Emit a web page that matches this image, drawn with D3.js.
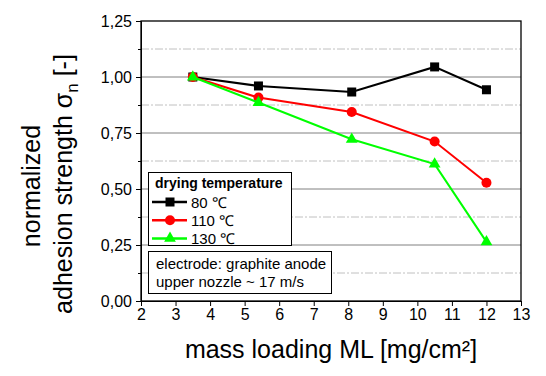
<!DOCTYPE html>
<html>
<head>
  <meta charset="UTF-8">
  <title>adhesion strength vs mass loading</title>
  <script src="https://d3js.org/d3.v7.min.js"></script>
  <style>
    body { margin: 0; background: #fff; }
    svg { display: block; font-family: 'Liberation Sans', Arial, sans-serif; }
  </style>
</head>
<body>
  <svg id="chart" width="546" height="376"></svg>
  <script>
    // data
    const massLoading = [3.5, 5.4, 8.1, 10.5, 12];
    const t80 = [1.0, 0.96, 0.933, 1.045, 0.943];
    const t110 = [1.0, 0.908, 0.844, 0.712, 0.528];
    const t130 = [1.0, 0.886, 0.722, 0.611, 0.264];
    const seriesNames = ["80 \u2103", "110 \u2103", "130 \u2103"];
    const xTicks = [2, 3, 4, 5, 6, 7, 8, 9, 10, 11, 12, 13];
    const yTicks = [0, 0.25, 0.5, 0.75, 1.0, 1.25];
    const yMinor = [0.125, 0.375, 0.625, 0.875, 1.125];

    const series = [
      { name: seriesNames[0], values: t80, color: "#000000", marker: "square" },
      { name: seriesNames[1], values: t110, color: "#ff0000", marker: "circle" },
      { name: seriesNames[2], values: t130, color: "#00ff00", marker: "triangle" }
    ];

    const margin = { top: 21, right: 25, bottom: 75, left: 141 },
          width = 546 - margin.left - margin.right,
          height = 376 - margin.top - margin.bottom;

    const svg = d3.select("#chart");
    const g = svg.append("g").attr("transform", `translate(${margin.left},${margin.top})`);

    const x = d3.scaleLinear().domain([2, 13]).range([0, width]);
    const y = d3.scaleLinear().domain([0, 1.25]).range([height, 0]);

    const fmt = d => d3.format(".2f")(d).replace(".", ",");

    // grid lines
    g.selectAll(".minor-grid").data(yMinor).enter().append("line")
      .attr("x1", 0).attr("x2", width)
      .attr("y1", d => y(d)).attr("y2", d => y(d))
      .attr("stroke", "#c0c0c0").attr("stroke-width", 1)
      .attr("stroke-dasharray", "8,2,2,2");
    g.selectAll(".major-grid").data(yTicks.filter(d => d > 0 && d < 1.25)).enter().append("line")
      .attr("x1", 0).attr("x2", width)
      .attr("y1", d => y(d)).attr("y2", d => y(d))
      .attr("stroke", "#808080").attr("stroke-width", 1);

    // axes
    const xAxis = g.append("g")
      .attr("transform", `translate(0,${height})`)
      .call(d3.axisBottom(x).tickValues(xTicks).tickSize(5).tickPadding(3).tickFormat(d3.format("d")));
    const yAxis = g.append("g")
      .call(d3.axisLeft(y).tickValues(yTicks).tickSize(5).tickPadding(4).tickFormat(fmt));
    g.append("g")
      .call(d3.axisLeft(y).tickValues(yMinor).tickSize(3).tickFormat(""))
      .select(".domain").remove();

    [xAxis, yAxis].forEach(a => {
      a.selectAll("text").attr("font-size", 16).attr("fill", "#000").attr("font-family", "'Liberation Sans', Arial, sans-serif");
      a.selectAll("line").attr("stroke", "#000");
      a.select(".domain").attr("stroke", "#000");
    });

    // frame
    g.append("rect").attr("width", width).attr("height", height)
      .attr("fill", "none").attr("stroke", "#000").attr("stroke-width", 1.3);

    // lines and markers
    const line = d3.line().x((d, i) => x(massLoading[i])).y(d => y(d));

    function drawMarker(sel, type, color, cx, cy) {
      if (type === "square") {
        sel.append("rect").attr("x", cx - 4.5).attr("y", cy - 4.5)
          .attr("width", 9).attr("height", 9).attr("fill", color);
      } else if (type === "circle") {
        sel.append("circle").attr("cx", cx).attr("cy", cy).attr("r", 5).attr("fill", color);
      } else {
        sel.append("path")
          .attr("d", d3.symbol().type(d3.symbolTriangle).size(60)())
          .attr("transform", `translate(${cx},${cy})`).attr("fill", color);
      }
    }

    series.forEach(s => {
      g.append("path").datum(s.values)
        .attr("fill", "none").attr("stroke", s.color).attr("stroke-width", 2)
        .attr("d", line);
      s.values.forEach((v, i) => drawMarker(g, s.marker, s.color, x(massLoading[i]), y(v)));
    });

    // legend
    const lg = svg.append("g");
    lg.append("rect").attr("x", 148.5).attr("y", 172.5).attr("width", 143).attr("height", 73)
      .attr("fill", "#fff").attr("stroke", "#000").attr("stroke-width", 1);
    lg.append("text").attr("x", 155).attr("y", 188).attr("font-size", 14)
      .attr("font-weight", "bold").text("drying temperature");
    series.forEach((s, i) => {
      const cy = 202 + i * 18.2;
      lg.append("line").attr("x1", 152).attr("x2", 187).attr("y1", cy).attr("y2", cy)
        .attr("stroke", s.color).attr("stroke-width", 2.5);
      drawMarker(lg, s.marker, s.color, 170, cy);
      lg.append("text").attr("x", 191).attr("y", cy + 5.5).attr("font-size", 15).text(s.name);
    });

    // note box
    const nb = svg.append("g");
    nb.append("rect").attr("x", 148.5).attr("y", 251.5).attr("width", 183).attr("height", 42)
      .attr("fill", "#fff").attr("stroke", "#000").attr("stroke-width", 1);
    nb.append("text").attr("x", 156).attr("y", 269).attr("font-size", 15).text("electrode: graphite anode");
    nb.append("text").attr("x", 156).attr("y", 287).attr("font-size", 15).text("upper nozzle ~ 17 m/s");

    // axis titles
    svg.append("text").attr("x", margin.left + width / 2).attr("y", 358)
      .attr("text-anchor", "middle").attr("font-size", 25)
      .text("mass loading ML [mg/cm\u00b2]");

    svg.append("text").attr("transform", "rotate(-90)")
      .attr("x", -186).attr("y", 40).attr("text-anchor", "middle").attr("font-size", 25)
      .text("normalized");
    const yt = svg.append("text").attr("transform", "rotate(-90)")
      .attr("x", -184).attr("y", 72).attr("text-anchor", "middle").attr("font-size", 25);
    yt.append("tspan").text("adhesion strength \u03c3");
    yt.append("tspan").attr("font-size", 17).attr("dy", 6).text("n");
    yt.append("tspan").attr("dy", -6).text(" [-]");
  </script>
</body>
</html>
